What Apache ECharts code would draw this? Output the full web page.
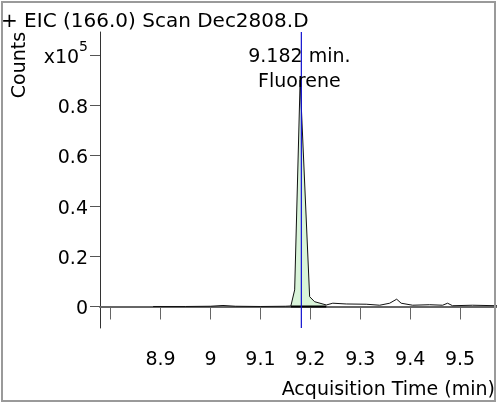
<!DOCTYPE html>
<html>
<head>
<meta charset="utf-8">
<script src="https://cdn.jsdelivr.net/npm/echarts@6/dist/echarts.min.js"></script>
<style>
html,body{margin:0;padding:0;background:#fff;}
#chart{width:497px;height:403px;}
</style>
</head>
<body>
<div id="chart"></div>
<script>
// ---- data (counts in units of 10^5) ----
const times  = [8.885, 8.95, 9.0, 9.025, 9.05, 9.10, 9.15, 9.161, 9.1686, 9.1796, 9.1986, 9.2086, 9.232, 9.245, 9.272, 9.312, 9.339, 9.359, 9.373, 9.382, 9.405, 9.439, 9.465, 9.475, 9.485, 9.525, 9.574];
const counts = [0.000, 0.000, 0.001, 0.004, 0.001, 0.000, 0.001, 0.002, 0.066, 0.900, 0.039, 0.019, 0.006, 0.013, 0.010, 0.009, 0.005, 0.013, 0.029, 0.013, 0.005, 0.007, 0.005, 0.013, 0.003, 0.005, 0.003];
const peakRT = 9.182;
const peakName = 'Fluorene';
const peakStart = 9.161;
const peakEnd = 9.232;
const xTickValues = [8.8, 8.9, 9.0, 9.1, 9.2, 9.3, 9.4, 9.5];
const xLabelValues = [8.9, 9.0, 9.1, 9.2, 9.3, 9.4, 9.5];
const yTickValues = [0, 0.2, 0.4, 0.6, 0.8, 1.0];
const yExponent = 5;
const titleText = '+ EIC (166.0) Scan Dec2808.D';
const xName = 'Acquisition Time (min)';
const yName = 'Counts';

const xMin = 8.7786, xMax = 9.574;
const yMin = -0.0855, yMax = 1.091;

const FONT = '"DejaVu Sans", Verdana, sans-serif';
const trace = times.map((t, i) => [t, counts[i]]);
const peakArea = trace.filter(p => p[0] >= peakStart && p[0] <= peakEnd);

const chart = echarts.init(document.getElementById('chart'), null, {renderer: 'canvas'});
chart.setOption({
  animation: false,
  backgroundColor: '#fff',
  grid: {left: 100, right: 0, top: 32, bottom: 75, containLabel: false},
  xAxis: {
    type: 'value', min: xMin, max: xMax, offset: 3,
    axisLine: {show: true, lineStyle: {color: '#666', width: 2}},
    axisTick: {show: true, inside: false, length: 13, customValues: xTickValues, lineStyle: {color: '#666', width: 1}},
    axisLabel: {show: true, margin: 20, customValues: xLabelValues, color: '#000', fontSize: 19, fontFamily: FONT,
      formatter: v => (Math.round(v * 10) / 10).toString()},
    splitLine: {show: false}
  },
  yAxis: {
    type: 'value', min: yMin, max: yMax,
    axisLine: {show: true, lineStyle: {color: '#333', width: 1}},
    axisTick: {show: true, inside: false, length: 10, customValues: yTickValues, lineStyle: {color: '#555'}},
    axisLabel: {show: true, margin: 12, customValues: yTickValues, color: '#000', fontSize: 19, fontFamily: FONT,
      padding: [6, 0, 0, 0],
      formatter: v => {
        if (Math.abs(v - 1) < 1e-9) return '{b|x10}{sup|' + yExponent + '}';
        if (Math.abs(v) < 1e-9) return '0';
        return v.toFixed(1);
      },
      rich: {
        b: {fontSize: 19, fontFamily: FONT, color: '#000'},
        sup: {fontSize: 14, fontFamily: FONT, color: '#000', padding: [0, 0, 22, 0]}
      }
    },
    splitLine: {show: false}
  },
  graphic: [
    {type: 'rect', silent: true, z: 100, shape: {x: 2, y: 2, width: 493, height: 399},
      style: {fill: 'none', stroke: '#9a9a9a', lineWidth: 2}},
    {type: 'text', x: 1, y: 22, silent: true,
      style: {text: titleText, font: '20px ' + FONT, fill: '#000', align: 'left', verticalAlign: 'middle'}},
    {type: 'text', x: 20, y: 65, rotation: Math.PI / 2, silent: true,
      style: {text: yName, font: '19px ' + FONT, fill: '#000', align: 'center', verticalAlign: 'middle'}},
    {type: 'text', x: 495, y: 390, silent: true,
      style: {text: xName, font: '19px ' + FONT, fill: '#000', align: 'right', verticalAlign: 'middle'}}
  ],
  series: [
    {
      type: 'line', name: 'area', data: peakArea, symbol: 'none', silent: true,
      lineStyle: {width: 0, opacity: 0},
      areaStyle: {color: '#d9f4d9', opacity: 1, origin: 0},
      z: 1
    },
    {
      type: 'line', name: 'baseline', data: [[peakStart, 0], [peakEnd, 0]], symbol: 'none', silent: true,
      lineStyle: {color: '#000', width: 2}, z: 2
    },
    {
      type: 'line', name: 'trace', data: trace, symbol: 'none', silent: true,
      lineStyle: {color: '#111', width: 1}, z: 3
    },
    {
      type: 'line', name: 'rt', data: [[peakRT, yMin], [peakRT, yMax]], symbol: 'none', silent: true,
      lineStyle: {color: '#1010d0', width: 1.2}, z: 4,
      markPoint: {
        symbol: 'circle', symbolSize: 0, silent: true,
        data: [{coord: [peakRT, 0.94]}],
        label: {show: true, position: 'inside', offset: [-2, 0], color: '#000', fontSize: 19, fontFamily: FONT,
          lineHeight: 25, align: 'center',
          formatter: () => peakRT.toFixed(3) + ' min.\n' + peakName}
      }
    }
  ]
});
</script>
</body>
</html>
